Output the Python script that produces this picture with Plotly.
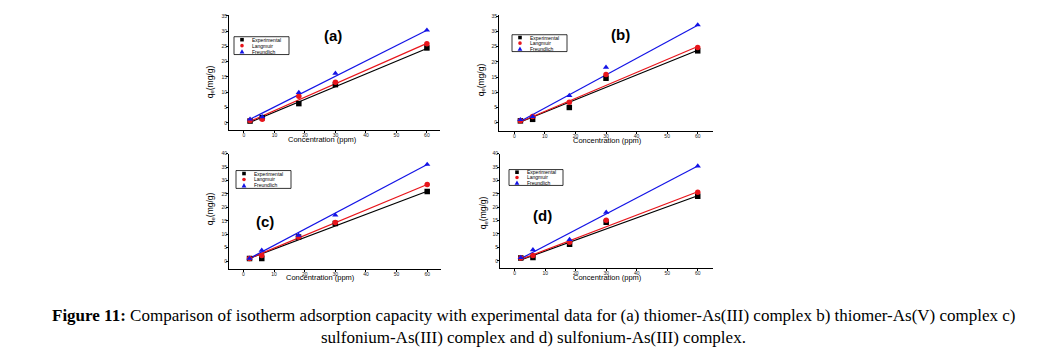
import plotly.graph_objects as go

W, H = 1061, 351

# ---------------- data ----------------
conc = [2, 6, 18, 30, 60]
fit_x = [2, 60]
series_names = ["Experimental", "Langmuir", "Freundlich"]
panel_labels = ["(a)", "(b)", "(c)", "(d)"]

a_exp = [0.6, 1.7, 6.3, 12.5, 24.5]
a_lang = [0.8, 1.2, 8.7, 13.3, 25.9]
a_freu = [1.2, 2.0, 9.9, 16.2, 30.3]
a_fit_exp = [0.2, 24.3]
a_fit_lang = [0.5, 26.0]
a_fit_freu = [1.2, 30.3]

b_exp = [0.6, 1.1, 5.0, 14.6, 23.6]
b_lang = [0.6, 2.0, 6.7, 15.8, 24.7]
b_freu = [1.0, 2.0, 8.9, 18.2, 32.1]
b_fit_exp = [0.2, 23.8]
b_fit_lang = [0.3, 25.0]
b_fit_freu = [0.5, 32.0]

c_exp = [1.0, 1.0, 9.0, 14.0, 25.9]
c_lang = [1.0, 2.1, 9.0, 14.4, 28.5]
c_freu = [1.0, 4.0, 9.6, 17.1, 36.0]
c_fit_exp = [1.0, 26.0]
c_fit_lang = [1.0, 28.5]
c_fit_freu = [1.0, 36.0]

d_exp = [1.0, 1.2, 6.2, 14.4, 24.1]
d_lang = [1.0, 2.0, 6.9, 15.1, 25.6]
d_freu = [1.2, 4.1, 7.9, 18.1, 35.4]
d_fit_exp = [0.3, 24.3]
d_fit_lang = [0.5, 25.8]
d_fit_freu = [0.8, 35.4]

x_ticks = [0, 10, 20, 30, 40, 50, 60]
y_ticks_top = [0, 5, 10, 15, 20, 25, 30, 35]
y_ticks_bottom = [0, 5, 10, 15, 20, 25, 30, 35, 40]

caption_line1 = ("<b>Figure 11:</b> Comparison of isotherm adsorption capacity with experimental data "
                 "for (a) thiomer-As(III) complex b) thiomer-As(V) complex c)")
caption_line2 = "sulfonium-As(III) complex and d) sulfonium-As(III) complex."

# ---------------- styling / layout ----------------
colors = ["#000000", "#e8151b", "#1414e6"]
symbols = ["square", "circle", "triangle-up"]


def px(x):
    return x / W


def py(y):
    return 1 - y / H


panels = [
    dict(data=(a_exp, a_lang, a_freu), fits=(a_fit_exp, a_fit_lang, a_fit_freu),
         box=(229, 440, 12, 128), xr=[-4.9, 64.3], yr=[-2.3, 35.3], yt=y_ticks_top,
         label_pos=(333, 33), leg=(234, 289, 34, 52), ytitle=(210, 80), xtitle=(322, 138)),
    dict(data=(b_exp, b_lang, b_freu), fits=(b_fit_exp, b_fit_lang, b_fit_freu),
         box=(499, 713, 12, 129), xr=[-5.0, 65.0], yr=[-2.7, 35.4], yt=y_ticks_top,
         label_pos=(620, 32), leg=(512, 567, 32, 49), ytitle=(481, 78), xtitle=(607, 139)),
    dict(data=(c_exp, c_lang, c_freu), fits=(c_fit_exp, c_fit_lang, c_fit_freu),
         box=(229, 441, 152, 268), xr=[-4.7, 64.5], yr=[-2.85, 40.0], yt=y_ticks_bottom,
         label_pos=(265, 220), leg=(236, 291, 169, 187), ytitle=(210, 208), xtitle=(320, 277)),
    dict(data=(d_exp, d_lang, d_freu), fits=(d_fit_exp, d_fit_lang, d_fit_freu),
         box=(500, 713, 152, 267), xr=[-4.8, 65.0], yr=[-2.6, 40.0], yt=y_ticks_bottom,
         label_pos=(542, 214), leg=(509, 563, 168, 184), ytitle=(483, 212), xtitle=(607, 277)),
]

fig = go.Figure()
shapes = []
annotations = []
layout_axes = {}


def note(x, y, text, size, family="Liberation Sans", xanchor="center", angle=0):
    annotations.append(dict(x=px(x), y=py(y), xref="paper", yref="paper", showarrow=False,
                            xanchor=xanchor, yanchor="middle", text=text, textangle=angle,
                            borderpad=0, font=dict(size=size, family=family, color="black")))


for i, p in enumerate(panels):
    n = "" if i == 0 else str(i + 1)
    xa, ya = "x" + n, "y" + n
    for k in range(3):
        fig.add_trace(go.Scatter(x=fit_x, y=p["fits"][k], mode="lines", xaxis=xa, yaxis=ya,
                                 line=dict(color=colors[k], width=1.2), showlegend=False,
                                 hoverinfo="skip"))
    for k in range(3):
        fig.add_trace(go.Scatter(x=conc, y=p["data"][k], mode="markers", xaxis=xa, yaxis=ya,
                                 name=series_names[k], showlegend=False,
                                 marker=dict(color=colors[k], symbol=symbols[k], size=5.5,
                                             line=dict(width=0))))
    x0, x1, y0, y1 = p["box"]
    axis_common = dict(showline=True, linecolor="black", linewidth=1, showgrid=False,
                       zeroline=False, ticks="outside", ticklen=2, tickwidth=0.8,
                       tickcolor="black", ticklabelstandoff=-2,
                       tickfont=dict(size=5, family="Liberation Sans", color="#222"))
    layout_axes["xaxis" + n] = dict(domain=[px(x0), px(x1)], range=p["xr"], anchor=ya,
                                    tickvals=x_ticks, **axis_common)
    layout_axes["yaxis" + n] = dict(domain=[py(y1), py(y0)], range=p["yr"], anchor=xa,
                                    tickvals=p["yt"], **axis_common)

    lx, ly = p["label_pos"]
    note(lx, ly, "<b>" + panel_labels[i] + "</b>", 15)
    tx, ty = p["ytitle"]
    note(tx, ty, "q<sub>e</sub>(mg/g)", 8.5, angle=-90)
    tx, ty = p["xtitle"]
    note(tx, ty, "Concentration (ppm)", 7.5)

    # compact legend box like the original
    lx0, lx1, ly0, ly1 = p["leg"]
    shapes.append(dict(type="rect", xref="paper", yref="paper", x0=px(lx0), x1=px(lx1),
                       y0=py(ly1), y1=py(ly0), line=dict(color="black", width=0.8),
                       fillcolor="white"))
    row_h = (ly1 - ly0) / 3
    mx = lx0 + 8
    for k in range(3):
        cy = ly0 + row_h * (k + 0.5)
        s = 1.8
        if k == 0:
            shapes.append(dict(type="rect", xref="paper", yref="paper", x0=px(mx - s),
                               x1=px(mx + s), y0=py(cy + s), y1=py(cy - s),
                               fillcolor=colors[k], line=dict(width=0)))
        elif k == 1:
            shapes.append(dict(type="circle", xref="paper", yref="paper", x0=px(mx - s),
                               x1=px(mx + s), y0=py(cy + s), y1=py(cy - s),
                               fillcolor=colors[k], line=dict(width=0)))
        else:
            path = "M {} {} L {} {} L {} {} Z".format(px(mx - 2.4), py(cy + 2), px(mx + 2.4),
                                                      py(cy + 2), px(mx), py(cy - 2.4))
            shapes.append(dict(type="path", xref="paper", yref="paper", path=path,
                               fillcolor=colors[k], line=dict(width=0)))
        note(mx + 9, cy, series_names[k], 5, xanchor="left")

# caption
note(533, 315, caption_line1, 17, family="Liberation Serif")
note(533, 337, caption_line2, 17, family="Liberation Serif")

fig.update_layout(width=W, height=H, margin=dict(l=0, r=0, t=0, b=0),
                  paper_bgcolor="white", plot_bgcolor="white", showlegend=False,
                  shapes=shapes, annotations=annotations, **layout_axes)

fig.write_html("out.html")
